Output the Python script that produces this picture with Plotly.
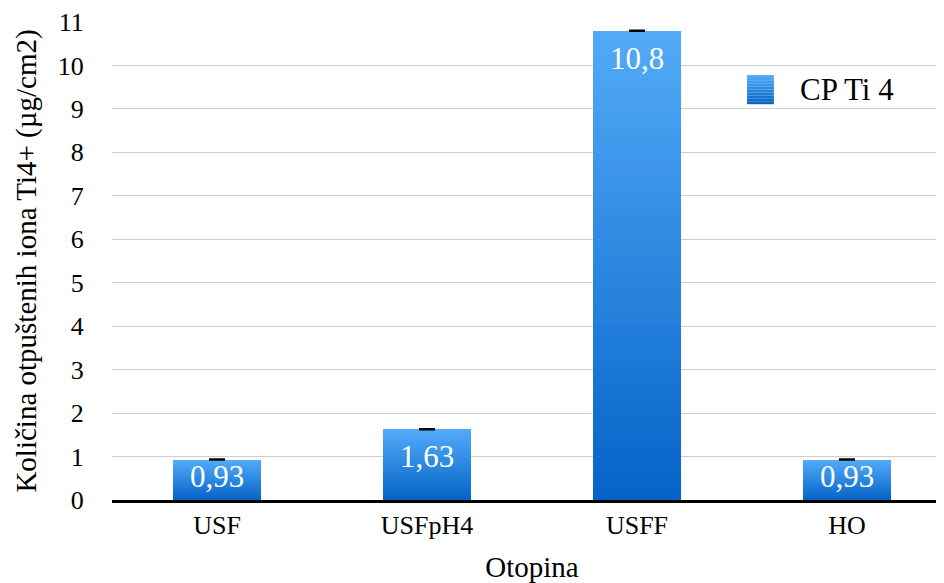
import plotly.graph_objects as go

# data
otopine = ['USF', 'USFpH4', 'USFF', 'HO']
vrijednosti = [0.93, 1.63, 10.8, 0.93]
greske = [0.01, 0.01, 0.01, 0.01]
oznake = ['0,93', '1,63', '10,8', '0,93']
serija = 'CP Ti 4'

FONT = 'Liberation Serif, Times New Roman, serif'
top_rgb = (82, 170, 247)
bot_rgb = (6, 100, 200)
N = 40


def boja(t):
    c = tuple(round(top_rgb[i] + (bot_rgb[i] - top_rgb[i]) * t) for i in range(3))
    return 'rgb(%d,%d,%d)' % c


fig = go.Figure()

# gradient bars: overlaid bars of decreasing height, darker towards the bottom
for k in range(N):
    fig.add_trace(go.Bar(
        x=otopine,
        y=[v * (N - k) / N for v in vrijednosti],
        marker=dict(color=boja(k / (N - 1)), line=dict(width=0)),
        width=0.42,
        showlegend=False,
        hoverinfo='skip',
    ))

# error bars
fig.add_trace(go.Scatter(
    x=otopine, y=vrijednosti, mode='markers',
    marker=dict(size=1, color='rgba(0,0,0,0)'),
    error_y=dict(type='data', array=greske, color='black', thickness=1.6, width=8),
    showlegend=False, hoverinfo='skip',
))

# value labels inside the bars
for x, v, t in zip(otopine, vrijednosti, oznake):
    fig.add_annotation(
        x=x, y=v, text=t, showarrow=False,
        yanchor='top', yshift=-8 if v > 1.2 else 3,
        font=dict(family=FONT, size=31, color='white'),
    )

# legend (gradient square + label)
S = 10
y_top, y_bot = 0.889, 0.828
for k in range(S):
    fig.add_shape(
        type='rect', xref='paper', yref='paper',
        x0=0.756, x1=0.788,
        y0=y_top - (k + 1) * (y_top - y_bot) / S, y1=y_top - k * (y_top - y_bot) / S,
        fillcolor=boja(k / (S - 1)), line=dict(width=0), layer='above',
    )
fig.add_annotation(
    xref='paper', yref='paper', x=0.8167, y=0.858, text=serija,
    showarrow=False, xanchor='left', yanchor='middle',
    font=dict(family=FONT, size=31, color='black'),
)

fig.update_layout(
    width=944, height=583,
    barmode='overlay',
    bargap=0,
    showlegend=False,
    plot_bgcolor='white',
    paper_bgcolor='white',
    margin=dict(l=104, r=0, t=14, b=91),
    font=dict(family=FONT, size=26, color='black'),
    xaxis=dict(
        title=dict(text='Otopina', font=dict(size=29), standoff=18),
        showline=True, linecolor='black', linewidth=2.5,
        tickfont=dict(size=26), ticks='', showgrid=False,
    ),
    yaxis=dict(
        title=dict(text='Količina otpuštenih iona Ti4+ (µg/cm2)', font=dict(size=29), standoff=12),
        range=[0, 11], dtick=1,
        showgrid=True, gridcolor='#cfcfcf', gridwidth=1.2,
        ticks='outside', ticklen=22, tickcolor='rgba(0,0,0,0)',
        tickfont=dict(size=26), zeroline=False,
    ),
)

fig.write_html('out.html')
